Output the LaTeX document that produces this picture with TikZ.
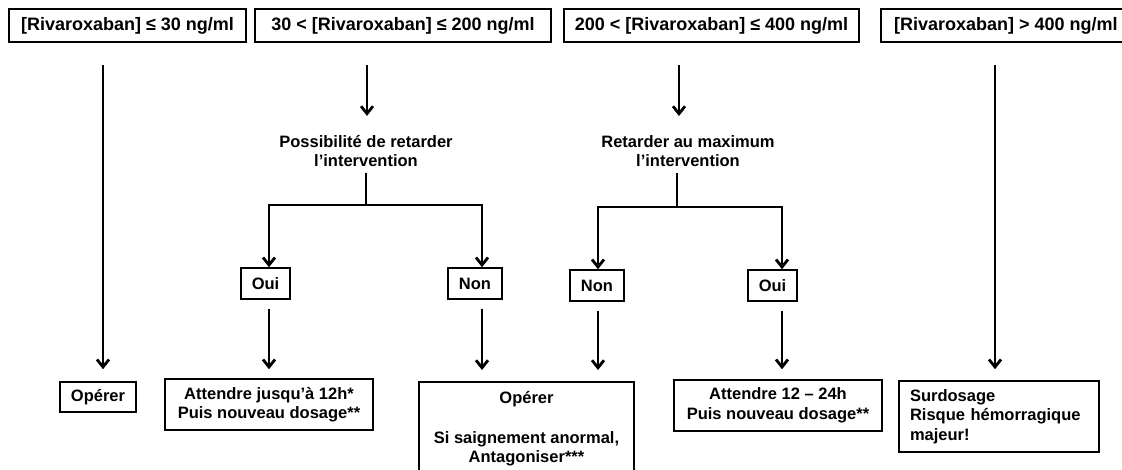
\documentclass[tikz,border=0pt]{standalone}
\usepackage{fontspec}
\setmainfont{Liberation Sans}
\usetikzlibrary{arrows.meta}
\usetikzlibrary{positioning}

\begin{document}
\begin{tikzpicture}[x=1pt,y=-1pt,
    topbox/.style={draw, line width=1.6pt, minimum height=33pt, inner sep=0pt,
      font=\fontsize{18}{21}\selectfont\bfseries},
    box/.style={draw, line width=1.6pt, inner sep=0pt, align=center,
      font=\fontsize{16.5}{19.5}\selectfont\bfseries},
    txt/.style={inner sep=0pt, align=center, font=\fontsize{16.5}{19.5}\selectfont\bfseries},
    ln/.style={line width=2.8pt},
    arr/.style={line width=2.8pt, -{Straight Barb[length=7.5pt,width=12pt]}}]
  \useasboundingbox (0,0) rectangle (1122,470);

  % dosage ranges
  \node[topbox, minimum width=237pt] (r1) at (127.5,25.5) {[Rivaroxaban] ≤ 30 ng/ml};
  \node[topbox, minimum width=296pt] (r2) at (403,25.5) {30 < [Rivaroxaban] ≤ 200 ng/ml};
  \node[topbox, minimum width=295pt] (r3) at (711.5,25.5) {200 < [Rivaroxaban] ≤ 400 ng/ml};
  \node[topbox, minimum width=250pt, anchor=west] (r4) at (880,25.5) {[Rivaroxaban] > 400 ng/ml};

  % questions
  \node[txt] (q2) at (366,151) {Possibilité de retarder\\l’intervention};
  \node[txt] (q3) at (688,151) {Retarder au maximum\\l’intervention};

  \node[box, minimum width=49pt, minimum height=31pt] (oui2) at (265.5,283.5) {Oui};
  \node[box, minimum width=54pt, minimum height=31pt] (non2) at (475,283.5) {Non};
  \node[box, minimum width=54pt, minimum height=31pt] (non3) at (597,285.5) {Non};
  \node[box, minimum width=49pt, minimum height=31pt] (oui3) at (772.5,285.5) {Oui};

  % decisions
  \node[box, minimum width=76pt, minimum height=30pt] (op1) at (98,397) {Opérer};
  \node[box, minimum width=208pt, minimum height=51pt] (att2) at (269,404.5)
    {Attendre jusqu’à 12h*\\Puis nouveau dosage**};
  \node[box, minimum width=215pt, inner ysep=10pt, anchor=north] (op2) at (526.5,381)
    {Opérer\\[20pt]Si saignement anormal,\\Antagoniser***\\[-6pt]~};
  \node[box, minimum width=208pt, minimum height=51pt] (att3) at (778,405.5)
    {Attendre 12 – 24h\\Puis nouveau dosage**};
  \node[box, text width=178pt, inner xsep=11pt, minimum height=71pt, align=left] (surd) at (999,416.5)
    {Surdosage\\Risque hémorragique\\majeur!};

  \coordinate (s1) at (103,65);
  \coordinate (s2) at (367,65);
  \coordinate (s3) at (679,65);
  \coordinate (s4) at (995,65);
  \draw[arr, shorten >=12pt] (s1) -- (s1 |- op1.north);
  \draw[arr, shorten >=19pt] (s2) -- (s2 |- q2.north);
  \draw[arr, shorten >=19pt] (s3) -- (s3 |- q3.north);
  \draw[arr, shorten >=11pt] (s4) -- (s4 |- surd.north);

  % branches
  \coordinate (j2) at (366,205);
  \coordinate (l2) at (269,205);
  \coordinate (m2) at (482,205);
  \draw[ln, shorten <=6pt] (q2.south) -- (j2);
  \draw[arr] (j2) -- (l2) -- (l2 |- oui2.north);
  \draw[arr] (j2) -- (m2) -- (m2 |- non2.north);
  \draw[arr, shorten <=9pt, shorten >=9pt] (oui2.south -| l2) -- (l2 |- att2.north);
  \draw[arr, shorten <=9pt, shorten >=11pt] (non2.south -| m2) -- (m2 |- op2.north);

  \coordinate (j3) at (677,207);
  \coordinate (l3) at (598,207);
  \coordinate (m3) at (782,207);
  \draw[ln, shorten <=6pt] (q3.south -| j3) -- (j3);
  \draw[arr] (j3) -- (l3) -- (l3 |- non3.north);
  \draw[arr] (j3) -- (m3) -- (m3 |- oui3.north);
  \draw[arr, shorten <=9pt, shorten >=11pt] (non3.south -| l3) -- (l3 |- op2.north);
  \draw[arr, shorten <=9pt, shorten >=10pt] (oui3.south -| m3) -- (m3 |- att3.north);
\end{tikzpicture}
\end{document}
